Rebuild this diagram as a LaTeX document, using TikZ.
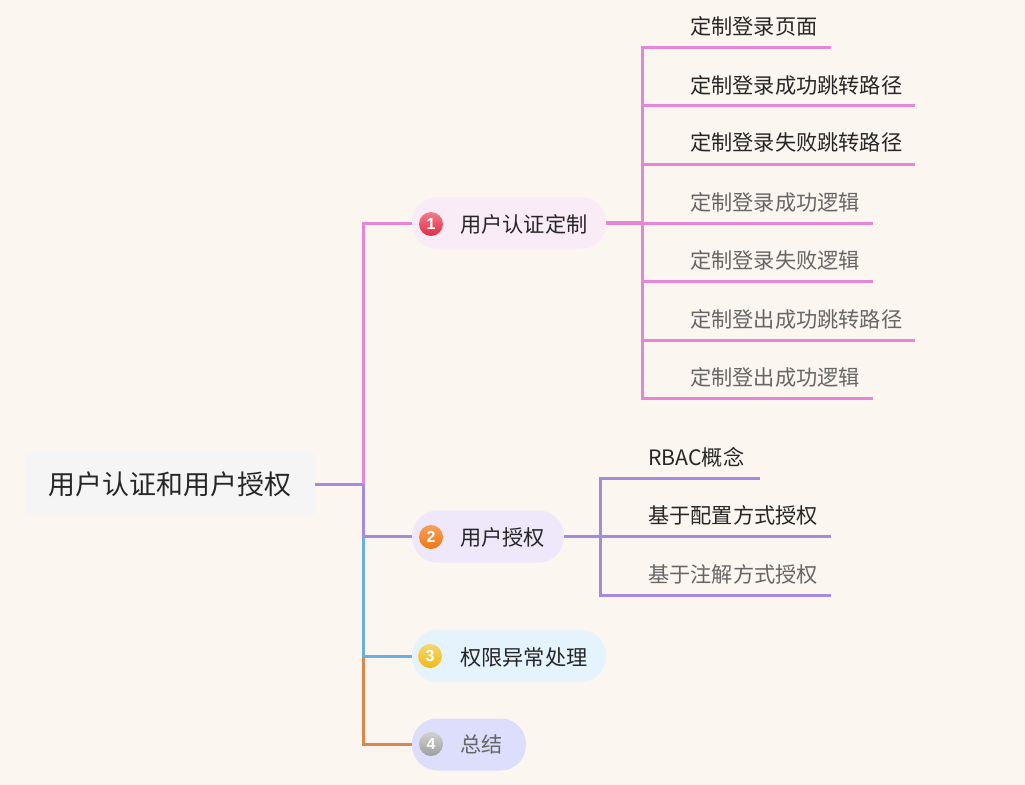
\documentclass[tikz,border=0pt]{standalone}
\usepackage{fontspec}
\setmainfont{Noto Sans CJK SC}
\newfontfamily\numfont{Liberation Sans}
\usetikzlibrary{positioning}
\definecolor{mapbg}{RGB}{251,246,239}
\definecolor{mappink}{RGB}{229,135,214}
\definecolor{mappurple}{RGB}{165,138,224}
\definecolor{mapblue}{RGB}{108,176,224}
\definecolor{maporange}{RGB}{217,135,74}
\definecolor{darktext}{RGB}{38,38,38}
\definecolor{greytext}{RGB}{102,102,102}
\definecolor{pillone}{RGB}{250,236,246}
\definecolor{pilltwo}{RGB}{239,232,250}
\definecolor{pillthree}{RGB}{229,244,252}
\definecolor{pillfour}{RGB}{220,222,252}

\begin{document}
\begin{tikzpicture}[x=0.75pt,y=-0.75pt,
    rootbox/.style={fill=black!4,rounded corners=4pt,minimum width=217.5pt,minimum height=48pt,inner sep=0pt,text=darktext,font=\fontsize{20.2pt}{24pt}\selectfont},
    pill/.style={rounded corners=19pt,minimum height=39pt,inner sep=0pt},
    badge/.style={circle,minimum size=18pt,inner sep=0pt,text=white,font=\numfont\bfseries\fontsize{12pt}{14pt}\selectfont},
    lbl/.style={anchor=west,inner sep=0pt,text=darktext,font=\fontsize{15.9pt}{19pt}\selectfont},
    lblgrey/.style={lbl,text=greytext},
    link/.style={line width=2.25pt}]
  \useasboundingbox (0,0) rectangle (1025,785);
  \fill[mapbg] (0,0) rectangle (1025,785);
  % root
  \node[rootbox] (root) at (170,484) {用户认证和用户授权};
  \coordinate (j1) at (363,484);
  \coordinate (j2) at (363,536);
  \coordinate (j3) at (363,656);
  % branches
  \node[pill,fill=pillone,minimum width=145.5pt] (b1) at (509,223) {};
  \node[pill,fill=pilltwo,minimum width=114pt] (b2) at (488,536.5) {};
  \node[pill,fill=pillthree,minimum width=145.5pt] (b3) at (509,656) {};
  \node[pill,fill=pillfour,minimum width=85.5pt] (b4) at (469,744.5) {};
  \node[badge,top color={rgb,255:red,240;green,125;blue,140},bottom color={rgb,255:red,224;green,45;blue,70}] (n1) at (431,224) {1};
  \node[badge,top color={rgb,255:red,245;green,160;blue,90},bottom color={rgb,255:red,240;green,120;blue,20}] (n2) at (431,537) {2};
  \node[badge,top color={rgb,255:red,245;green,215;blue,110},bottom color={rgb,255:red,240;green,185;blue,20}] (n3) at (430,656) {3};
  \node[badge,top color=black!18,bottom color=black!38] (n4) at (431,744) {4};
  \node[lbl] (t1) at (460,224) {用户认证定制};
  \node[lbl] (t2) at (460,537) {用户授权};
  \node[lbl] (t3) at (460,657) {权限异常处理};
  \node[lblgrey] (t4) at (460,744) {总结};
  % leaves of branch 1
  \node[lbl] (l1) at (690,26) {定制登录页面};
  \node[lbl] (l2) at (690,85) {定制登录成功跳转路径};
  \node[lbl] (l3) at (690,142.5) {定制登录失败跳转路径};
  \node[lblgrey] (l4) at (690,202) {定制登录成功逻辑};
  \node[lblgrey] (l5) at (690,260) {定制登录失败逻辑};
  \node[lblgrey] (l6) at (690,319) {定制登出成功跳转路径};
  \node[lblgrey] (l7) at (690,377) {定制登出成功逻辑};
  \coordinate (h1) at (642,223);
  \coordinate (e1) at (831,47);
  \coordinate (e2) at (915,105.5);
  \coordinate (e3) at (915,164);
  \coordinate (e4) at (873,223);
  \coordinate (e5) at (873,281);
  \coordinate (e6) at (915,340);
  \coordinate (e7) at (873,398.5);
  % leaves of branch 2
  \node[lbl] (m1) at (648,457) {RBAC概念};
  \node[lbl] (m2) at (648,515) {基于配置方式授权};
  \node[lblgrey] (m3) at (648,574) {基于注解方式授权};
  \coordinate (h2) at (600,536.5);
  \coordinate (f1) at (760,478);
  \coordinate (f2) at (831,536.5);
  \coordinate (f3) at (831,595);
  % connectors
  \draw[link,maporange] (j3) |- (b4.west);
  \draw[link,mapblue] (j2) |- (b3.west);
  \draw[link,mappink] (j1) |- (b1.west);
  \draw[link,mappurple] (j1) |- (b2.west);
  \draw[link,mappurple] (root.east) -- (j1);
  \draw[link,mappink] (h1) -- (e4);
  \draw[link,mappink,line width=3pt] (b1.east) -- (h1);
  \draw[link,mappink] (h1) |- (e1);
  \draw[link,mappink] (h1) |- (e2);
  \draw[link,mappink] (h1) |- (e3);
  \draw[link,mappink] (h1) |- (e5);
  \draw[link,mappink] (h1) |- (e6);
  \draw[link,mappink] (h1) |- (e7);
  \draw[link,mappurple] (b2.east) -- (f2);
  \draw[link,mappurple] (h2) |- (f1);
  \draw[link,mappurple] (h2) |- (f3);
\end{tikzpicture}
\end{document}
